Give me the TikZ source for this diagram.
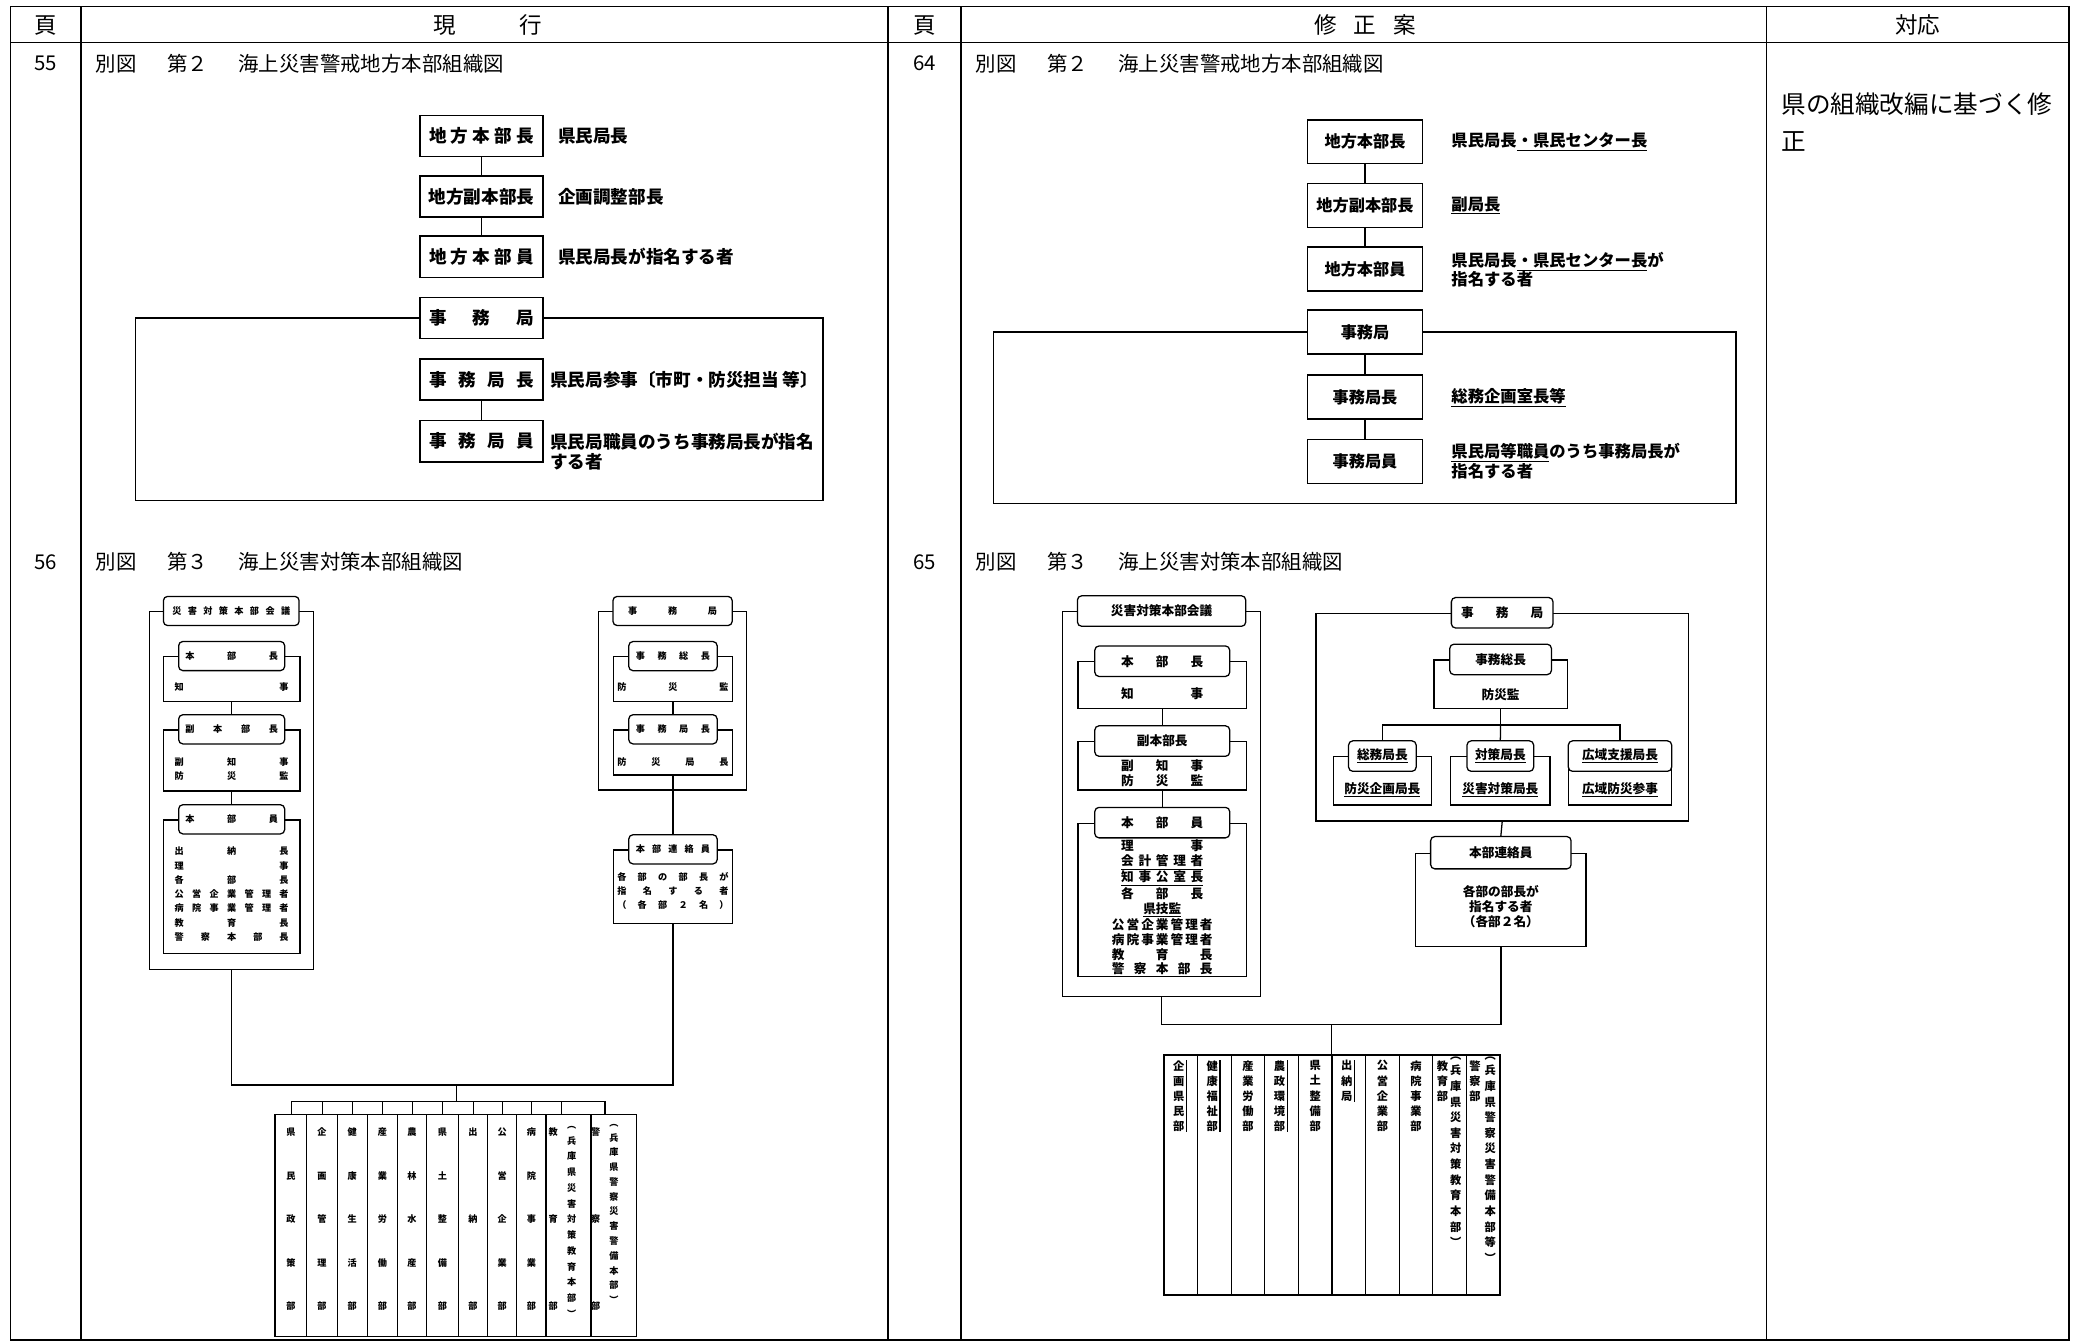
\documentclass[tikz,border=0pt]{standalone}
\usepackage{fontspec}
\setmainfont{Noto Sans CJK JP}
\usetikzlibrary{positioning}
\newlength{\pxu}
\setlength{\pxu}{0.0331cm}
% spread characters over a fixed width / height, or stack them
\def\hsA#1{#1\hsB}
\def\hsB#1{\ifx\relax#1\else\hfill#1\expandafter\hsB\fi}
\newcommand{\hsprd}[2]{\makebox[#1\pxu]{\expandafter\hsA#2\relax}}
\def\vsA#1{#1\vsB}
\def\vsB#1{\ifx\relax#1\else\par\vfill#1\expandafter\vsB\fi}
\newcommand{\vsprd}[2]{\parbox[c][#1\pxu][s]{1.2em}{\centering\expandafter\vsA#2\relax}}
\def\vlA#1{#1\vlB}
\def\vlB#1{\ifx\relax#1\else\\#1\expandafter\vlB\fi}
\newcommand{\vlist}[1]{\expandafter\vlA#1\relax}

\tikzset{
  tline/.style={line width=1.1pt},
  hdr/.style={inner sep=0pt, font=\fontsize{16}{19}\selectfont},
  rowt/.style={inner sep=0pt, font=\fontsize{14.5}{17}\selectfont},
  obox/.style={draw, line width=1pt, fill=white, inner sep=0pt, minimum width=93\pxu, minimum height=31\pxu, font=\fontsize{12.5}{15}\selectfont\bfseries},
  otxt/.style={inner sep=0pt, anchor=west, align=left, font=\fontsize{12.5}{14.2}\selectfont\bfseries},
  nbox/.style={draw, line width=1pt, fill=white, inner sep=0pt, minimum width=87\pxu, minimum height=33\pxu, font=\fontsize{11.5}{14}\selectfont\bfseries},
  ntxt/.style={inner sep=0pt, anchor=west, align=left, font=\fontsize{11.6}{13.8}\selectfont\bfseries},
  ogrp/.style={draw, line width=0.9pt, inner sep=0pt},
  ottl/.style={draw, line width=0.9pt, fill=white, rounded corners=3pt, inner sep=0pt, minimum height=22\pxu, font=\fontsize{6.5}{8}\selectfont\bfseries},
  otx/.style={inner sep=0pt, align=center, font=\fontsize{6.5}{10.1}\selectfont\bfseries},
  ngrp/.style={draw, line width=0.9pt, inner sep=0pt},
  nttl/.style={draw, line width=0.9pt, fill=white, rounded corners=3pt, inner sep=0pt, minimum height=23\pxu, font=\fontsize{9}{11}\selectfont\bfseries},
  ntx/.style={inner sep=0pt, align=center, font=\fontsize{9}{10.5}\selectfont\bfseries},
  ocol/.style={draw, line width=0.9pt, inner sep=0pt, minimum height=167.6\pxu},
  ocolt/.style={inner sep=0pt, align=center, font=\fontsize{6.5}{8}\selectfont\bfseries},
  ncol/.style={draw, line width=0.9pt, inner sep=0pt, minimum width=25.35\pxu, minimum height=181\pxu},
  nct/.style={inner sep=0pt, align=center, font=\fontsize{8}{10.8}\selectfont\bfseries},
  resp/.style={inner sep=0pt, align=left, font=\fontsize{17.5}{26.3}\selectfont},
  conn/.style={line width=0.9pt}
}

\begin{document}
\begin{tikzpicture}[x=0.0331cm, y=-0.0331cm]
  \fill[white] (0,0) rectangle (1568,1013);
  \useasboundingbox (0,0) rectangle (1568,1013);

  % table frame
  \draw[tline] (8,5) rectangle (1561,1011);
  \draw[tline] (8,32) -- (1561,32);
  \foreach \x in {61,670,725,1333}
    \draw[tline] (\x,5) -- (\x,1011);

  \node[hdr] (hpage1) at (34.5,19) {頁};
  \node[hdr] (hcur) at (368,19) {現\hspace{2.8em}行};
  \node[hdr] (hpage2) at (697.5,19) {頁};
  \node[hdr] (hrev) at (1030,19) {修\hspace{0.75em}正\hspace{0.75em}案};
  \node[hdr] (hresp) at (1447,19) {対応};

  \node[rowt] (p55) at (34.5,48) {55};
  \node[rowt, anchor=west] (t55) at (72,48) {別図\hspace{1.5em}第２\hspace{1.5em}海上災害警戒地方本部組織図};
  \node[rowt] (p56) at (34.5,424) {56};
  \node[rowt, anchor=west] (t56) at (72,424) {別図\hspace{1.5em}第３\hspace{1.5em}海上災害対策本部組織図};
  \node[rowt] (p64) at (697.5,48) {64};
  \node[rowt, anchor=west] (t64) at (736,48) {別図\hspace{1.5em}第２\hspace{1.5em}海上災害警戒地方本部組織図};
  \node[rowt] (p65) at (697.5,424) {65};
  \node[rowt, anchor=west] (t65) at (736,424) {別図\hspace{1.5em}第３\hspace{1.5em}海上災害対策本部組織図};

  \node[resp, anchor=west] (resptxt) at (1344,92) {県の組織改編に基づく修\\正};

  % current: figure 2
  \node[obox] (ohead) at (363.3,102.8) {\hsprd{79}{地方本部長}};
  \node[obox] (ovice) at (363.3,148.2) {\hsprd{79}{地方副本部長}};
  \node[obox] (omemb) at (363.3,193.7) {\hsprd{79}{地方本部員}};
  \coordinate (ofrSW) at (102.5,377.5);
  \coordinate (ofrNE) at (621,240);
  \node[obox] (ooff) at (363.3,240) {\hsprd{79}{事務局}};
  \draw[conn] (ooff.west) -| (ofrSW) -| (ofrNE) -- (ooff.east);
  \node[obox] (ochief) at (363.3,286.4) {\hsprd{79}{事務局長}};
  \node[obox] (ostaff) at (363.3,333) {\hsprd{79}{事務局員}};
  \draw[conn] (ohead) -- (ovice);
  \draw[conn] (ovice) -- (omemb);
  \draw[conn] (ochief) -- (ostaff);

  \node[otxt] (oheadt) at (421,103) {県民局長};
  \node[otxt] (ovicet) at (421,148.4) {企画調整部長};
  \node[otxt] (omembt) at (421,193.8) {県民局長が指名する者};
  \node[otxt] (ochieft) at (415,286.7) {県民局参事〔市町・防災担当\ 等〕};
  \node[otxt] (ostafft) at (415,340.8) {県民局職員のうち事務局長が指名\\する者};

  % revised: figure 2
  \node[nbox] (nhead) at (1030,107) {地方本部長};
  \node[nbox] (nvice) at (1030,155) {地方副本部長};
  \node[nbox] (nmemb) at (1030,203) {地方本部員};
  \coordinate (nfrSW) at (749.5,380);
  \coordinate (nfrNE) at (1310,250.5);
  \node[nbox] (noff) at (1030,250.5) {事務局};
  \draw[conn] (noff.west) -| (nfrSW) -| (nfrNE) -- (noff.east);
  \node[nbox] (nchief) at (1030,299.6) {事務局長};
  \node[nbox] (nstaff) at (1030,348.3) {事務局員};
  \draw[conn] (nhead) -- (nvice);
  \draw[conn] (nvice) -- (nmemb);
  \draw[conn] (noff) -- (nchief);
  \draw[conn] (nchief) -- (nstaff);

  \node[ntxt] (nheadt) at (1095,107) {県民局長\underline{・県民センター長}};
  \node[ntxt] (nvicet) at (1095,155) {\underline{副局長}};
  \node[ntxt] (nmembt) at (1095,203.5) {県民局長\underline{・県民センター長}が\\指名する者};
  \node[ntxt] (nchieft) at (1095,300) {\underline{総務企画室長等}};
  \node[ntxt] (nstafft) at (1095,348) {\underline{県民局等職員}のうち事務局長が\\指名する者};

  % current: figure 3, council
  \node[ogrp, minimum width=123.7\pxu, minimum height=270\pxu] (ocouncil) at (174.5,596.5) {};
  \node[ottl, minimum width=102.4\pxu] (ocouncilt) at (ocouncil.north) {\hsprd{89}{災害対策本部会議}};
  \node[ogrp, minimum width=103.2\pxu, minimum height=34\pxu] (ochief3) at (174.8,512.5) {};
  \node[ottl, minimum width=80\pxu] (ochief3t) at (ochief3.north) {\hsprd{70}{本部長}};
  \node[otx] (ochief3x) at (174.8,518.5) {\hsprd{86}{知事}};
  \node[ogrp, minimum width=103.2\pxu, minimum height=46\pxu] (ovice3) at (174.8,573.8) {};
  \node[ottl, minimum width=80\pxu] (ovice3t) at (ovice3.north) {\hsprd{70}{副本部長}};
  \node[otx] (ovice3x) at (174.8,580.3) {\hsprd{86}{副知事}\\\hsprd{86}{防災監}};
  \node[ogrp, minimum width=103.2\pxu, minimum height=100.6\pxu] (omemb3) at (174.8,669) {};
  \node[ottl, minimum width=80\pxu] (omemb3t) at (omemb3.north) {\hsprd{70}{本部員}};
  \node[otx] (omemb3x) at (174.8,674.7) {\hsprd{86}{出納長}\\\hsprd{86}{理事}\\\hsprd{86}{各部長}\\
    \hsprd{86}{公営企業管理者}\\\hsprd{86}{病院事業管理者}\\\hsprd{86}{教育長}\\\hsprd{86}{警察本部長}};
  \draw[conn] (ochief3.south) -- (ovice3t.north);
  \draw[conn] (ovice3.south) -- (omemb3t.north);

  % current: figure 3, office
  \node[ogrp, minimum width=112\pxu, minimum height=134.6\pxu] (osec) at (507.5,528.8) {};
  \node[ottl, minimum width=90\pxu] (osect) at (osec.north) {\hsprd{67}{事務局}};
  \node[ogrp, minimum width=90\pxu, minimum height=33.5\pxu] (osg) at (507.8,512.3) {};
  \node[ottl, minimum width=66.7\pxu] (osgt) at (osg.north) {\hsprd{56}{事務総長}};
  \node[otx] (osgx) at (507.8,518.5) {\hsprd{84}{防災監}};
  \node[ogrp, minimum width=90\pxu, minimum height=34\pxu] (osd) at (507.8,567.8) {};
  \node[ottl, minimum width=66.7\pxu] (osdt) at (osd.north) {\hsprd{56}{事務局長}};
  \node[otx] (osdx) at (507.8,574.7) {\hsprd{84}{防災局長}};
  \node[ogrp, minimum width=90\pxu, minimum height=55.3\pxu] (oliaison) at (507.8,669) {};
  \node[ottl, minimum width=66.7\pxu] (oliaisont) at (oliaison.north) {\hsprd{56}{本部連絡員}};
  \node[otx] (oliaisonx) at (507.8,672.2) {\hsprd{84}{各部の部長が}\\\hsprd{84}{指名する者}\\\hsprd{84}{（各部２名）}};
  \draw[conn] (osg.south) -- (osdt.north);
  \draw[conn] (osd.south) -- (oliaisont.north);

  % current: departments
  \coordinate (ojoin) at (344.6,818.7);
  \coordinate (obus) at (344.6,831);
  \draw[conn] (ocouncil.south) |- (ojoin) -| (oliaison.south);
  \draw[conn] (ojoin) -- (obus);
  \foreach \xl/\xr/\tk/\tx/\txt [count=\i] in {
      207.5/231.4/220.1/219.45/県民政策部, 231.4/254.5/243.3/242.95/企画管理部,
      254.5/277.2/265.9/265.85/健康生活部, 277.2/299.8/288.5/288.5/産業労働部,
      299.8/321.9/311.1/310.85/農林水産部, 321.9/345.8/334/333.85/県土整備部,
      345.8/368/357.1/356.9/出納部, 368/389.9/379/378.95/公営企業部,
      389.9/412/401.2/400.95/病院事業部, 412/445.9/423.8/417.5/教育部,
      445.9/480.4/456.5/449.5/警察部} {
    \node[ocol, minimum width={(\xr-\xl)*\pxu}] (oc\i) at ({(\xl+\xr)/2},924.8) {};
    \coordinate (ot\i) at (\tk,831);
    \draw[conn] (ot\i) -- (ot\i |- oc\i.north);
    \node[ocolt] (ocx\i) at (\tx,920) {\vsprd{137}{\txt}};
  }
  \draw[conn] (ot1) -- (ot11);
  \node[ocolt, anchor=north, font=\fontsize{6.5}{11.2}\selectfont\bfseries] (ocp10) at (431.3,849.5) {\vlist{︵兵庫県災害対策教育本部︶}};
  \node[ocolt, anchor=north, font=\fontsize{6.5}{10.5}\selectfont\bfseries] (ocp11) at (463.3,848) {\vlist{︵兵庫県警察災害警備本部︶}};

  % revised: figure 3, council
  \node[ngrp, minimum width=149.5\pxu, minimum height=290.5\pxu] (ncouncil) at (876.5,606.8) {};
  \node[nttl, minimum width=127\pxu] (ncouncilt) at (ncouncil.north) {災害対策本部会議};
  \node[ngrp, minimum width=127\pxu, minimum height=35.2\pxu] (nchief3) at (877,517) {};
  \node[nttl, minimum width=101.8\pxu] (nchief3t) at (nchief3.north) {\hsprd{62}{本部長}};
  \node[ntx] (nchief3x) at (877,523.1) {\hsprd{62}{知事}};
  \node[ngrp, minimum width=127\pxu, minimum height=36.5\pxu] (nvice3) at (877,577.9) {};
  \node[nttl, minimum width=101.8\pxu] (nvice3t) at (nvice3.north) {副本部長};
  \node[ntx] (nvice3x) at (877,583.5) {\hsprd{62}{副知事}\\\hsprd{62}{防災監}};
  \node[ngrp, minimum width=127\pxu, minimum height=115.8\pxu] (nmemb3) at (877,679.1) {};
  \node[nttl, minimum width=101.8\pxu] (nmemb3t) at (nmemb3.north) {\hsprd{62}{本部員}};
  \node[ntx] (nmemb3x) at (877,684.8) {\hsprd{62}{理事}\\\underline{\hsprd{62}{会計管理者}}\\
    \underline{\hsprd{62}{知事公室長}}\\\hsprd{62}{各部長}\\\underline{県技監}\\
    \hsprd{76}{公営企業管理者}\\\hsprd{76}{病院事業管理者}\\\hsprd{76}{教育長}\\\hsprd{76}{警察本部長}};
  \draw[conn] (nchief3.south) -- (nvice3t.north);
  \draw[conn] (nvice3.south) -- (nmemb3t.north);

  % revised: figure 3, office
  \node[ngrp, minimum width=281\pxu, minimum height=156.7\pxu] (nsec) at (1133.5,541.2) {};
  \node[nttl, minimum width=76.7\pxu] (nsect) at (nsec.north) {\hsprd{62}{事務局}};
  \node[ngrp, minimum width=100.6\pxu, minimum height=36.5\pxu] (nsg) at (1132.3,516.3) {};
  \node[nttl, minimum width=76.7\pxu] (nsgt) at (nsg.north) {事務総長};
  \node[ntx] (nsgx) at (1132.3,524.4) {防災監};
  \node[ngrp, minimum width=74.2\pxu, minimum height=36.4\pxu] (nga) at (1043.1,589.2) {};
  \node[nttl, minimum width=51\pxu] (ngat) at (nga.north) {\underline{総務局長}};
  \node[ntx] (ngax) at (1043.1,596) {\underline{防災企画局長}};
  \node[ngrp, minimum width=75\pxu, minimum height=36.4\pxu] (ngb) at (1132.1,589.2) {};
  \node[nttl, minimum width=50.3\pxu] (ngbt) at (ngb.north) {\underline{対策局長}};
  \node[ntx] (ngbx) at (1132.1,596) {\underline{災害対策局長}};
  \node[ngrp, minimum width=78\pxu, minimum height=36.4\pxu] (ngc) at (1222.4,589.2) {};
  \node[nttl, minimum width=78\pxu] (ngct) at (ngc.north) {\underline{広域支援局長}};
  \node[ntx] (ngcx) at (1222.4,596) {\underline{広域防災参事}};
  \coordinate (nsplit) at (1132.3,547);
  \draw[conn] (nsg.south) -- (nsplit);
  \draw[conn] (ngat.north) |- (nsplit) -| (ngct.north);
  \draw[conn] (nsplit) -- (ngbt.north);
  \node[ngrp, minimum width=128.3\pxu, minimum height=70.4\pxu] (nliaison) at (1132.5,679.1) {};
  \node[nttl, minimum width=106\pxu, minimum height=24.4\pxu] (nliaisont) at (nliaison.north) {本部連絡員};
  \node[ntx, font=\fontsize{9}{10.6}\selectfont\bfseries] (nliaisonx) at (1132.5,684.3) {各部の部長が\\指名する者\\（各部２名）};
  \draw[conn] (nsec.south) -- (nliaisont.north);

  % revised: departments
  \coordinate (nbus) at (1004.8,773);
  \draw[conn] (ncouncil.south) |- (nbus) -| (nliaison.south);
  \foreach \tx/\txt/\sl [count=\i] in {
      889.5/企画県民部/1, 914.8/健康福祉部/1, 941.7/産業労働部/0, 965.5/農政環境部/1,
      992.4/県土整備部/0, 1016.2/出納局/1, 1043.1/公営企業部/0, 1068.4/病院事業部/0,
      1088.5/教育部/0, 1113/警察部/0} {
    \node[ncol] (nc\i) at ({878.3+25.35*(\i-0.5)},886.6) {};
    \node[nct, anchor=north] (nt\i) at (\tx,800) {\vlist{\txt}};
    \ifnum\sl=1
      \draw[line width=0.8pt] ([xshift=1.2pt]nt\i.north east) -- ([xshift=1.2pt]nt\i.south east);
    \fi
  }
  \draw[conn] (nbus) -- (nbus |- nc5.north);
  \node[nct, anchor=north, font=\fontsize{8}{11.1}\selectfont\bfseries] (np9) at (1098.5,797) {\vlist{︵兵庫県災害対策教育本部︶}};
  \node[nct, anchor=north, font=\fontsize{8}{11.1}\selectfont\bfseries] (np10) at (1124.5,797) {\vlist{︵兵庫県警察災害警備本部等︶}};
\end{tikzpicture}
\end{document}
